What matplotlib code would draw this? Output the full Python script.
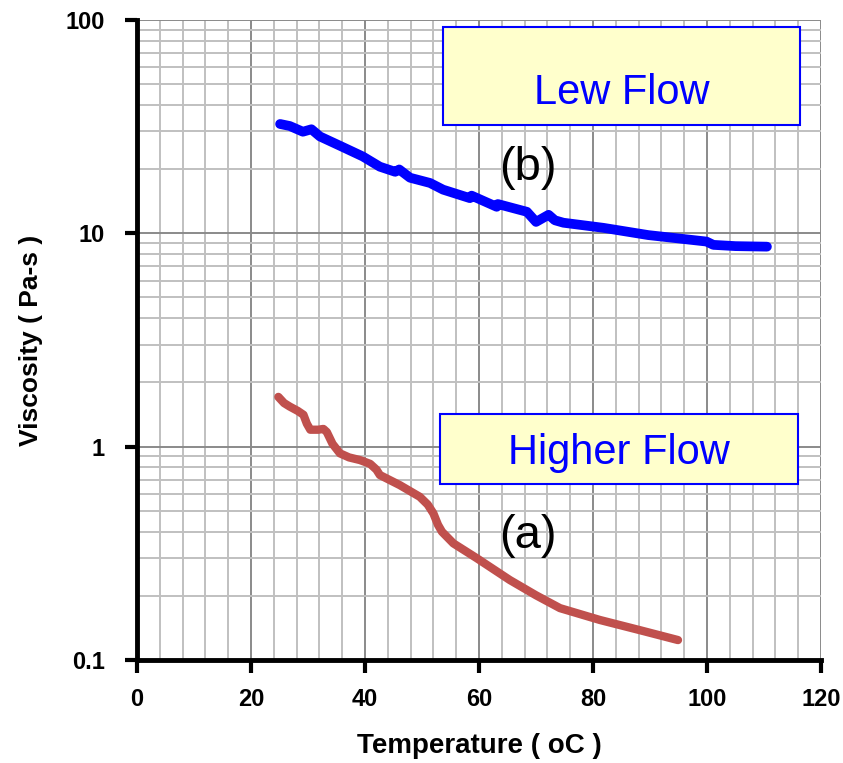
import numpy as np
import matplotlib.pyplot as plt
from matplotlib import rcParams
from matplotlib.patches import Rectangle
from matplotlib.ticker import LogLocator, MultipleLocator, FixedLocator, FixedFormatter

rcParams['font.family'] = ['Liberation Sans', 'DejaVu Sans']

# ---- data ----
# (b) low flow
temp_b = [25.1, 26.8, 29.1, 30.6, 32.1, 35.6, 39.6, 42.6, 45.3, 46.0, 47.9,
          51.4, 53.7, 58.4, 58.7, 63.1, 63.3, 68.4, 70.0, 72.2, 73.3, 74.8,
          81.8, 89.7, 99.9, 101.1, 105.0, 110.5]
visc_b = [32.5, 31.8, 29.9, 30.7, 28.4, 25.7, 22.9, 20.5, 19.4, 19.9, 18.2,
          17.2, 16.0, 14.6, 15.0, 13.3, 13.7, 12.6, 11.3, 12.2, 11.5, 11.2,
          10.6, 9.8, 9.14, 8.82, 8.7, 8.65]

# (a) higher flow
temp_a = [24.8, 25.8, 26.8, 28.2, 29.2, 29.8, 30.4, 31.8, 32.7, 33.3, 34.3,
          35.6, 37.2, 39.1, 40.9, 42.0, 42.6, 46.1, 49.6, 51.0, 52.0, 52.8,
          53.5, 55.5, 59.6, 65.4, 70.0, 74.2, 81.2, 88.2, 94.9]
visc_a = [1.71, 1.60, 1.54, 1.47, 1.41, 1.28, 1.20, 1.20, 1.21, 1.17, 1.03,
          0.93, 0.89, 0.865, 0.83, 0.78, 0.736, 0.66, 0.582, 0.535, 0.486, 0.43,
          0.399, 0.352, 0.30, 0.237, 0.201, 0.175, 0.154, 0.138, 0.124]

x_ticks = [0, 20, 40, 60, 80, 100, 120]
y_ticks = [0.1, 1, 10, 100]
y_labels = ['0.1', '1', '10', '100']

fig = plt.figure(figsize=(8.43, 7.63), dpi=100)
ax = fig.add_axes([0.1625, 0.135, 0.8115, 0.839])

ax.plot(temp_b, visc_b, color='#0000FF', linewidth=7, solid_capstyle='round',
        solid_joinstyle='round', zorder=3)
ax.plot(temp_a, visc_a, color='#C0504D', linewidth=6, solid_capstyle='round',
        solid_joinstyle='round', zorder=3)

ax.set_yscale('log')
ax.set_xlim(0, 120)
ax.set_ylim(0.1, 100)

ax.xaxis.set_major_locator(FixedLocator(x_ticks))
ax.xaxis.set_minor_locator(MultipleLocator(4))
ax.yaxis.set_major_locator(FixedLocator(y_ticks))
ax.yaxis.set_major_formatter(FixedFormatter(y_labels))
ax.yaxis.set_minor_locator(LogLocator(base=10, subs=np.arange(2, 10)))

ax.grid(True, which='major', color='#8a8a8a', linewidth=1.4, zorder=0)
ax.grid(True, which='minor', color='#c0c0c0', linewidth=1.4, zorder=0)
ax.set_axisbelow(True)

ax.tick_params(axis='both', which='major', labelsize=17, width=3, length=9,
               direction='out')
ax.tick_params(axis='x', which='major', pad=11)
ax.tick_params(axis='y', which='major', pad=14)
ax.tick_params(axis='both', which='minor', length=0)
for lab in ax.get_xticklabels() + ax.get_yticklabels():
    lab.set_fontweight('bold')

for s in ['top', 'right']:
    ax.spines[s].set_visible(False)
for s in ['left', 'bottom']:
    ax.spines[s].set_linewidth(3.5)

ax.set_xlabel('Temperature ( oC )', fontsize=20, fontweight='bold', labelpad=16)
ax.set_ylabel('Viscosity ( Pa-s )', fontsize=19, fontweight='bold', labelpad=16)

# text boxes (axes fraction)
for (x0, y0, w, h) in [(0.447, 0.836, 0.522, 0.153), (0.443, 0.275, 0.523, 0.109)]:
    ax.add_patch(Rectangle((x0, y0), w, h, transform=ax.transAxes,
                           facecolor='#FFFFCC', edgecolor='#0000FF',
                           linewidth=1.5, zorder=4))
ax.text(0.708, 0.885, 'Lew Flow', transform=ax.transAxes, fontsize=30,
        color='#0000FF', ha='center', va='center', zorder=5)
ax.text(0.704, 0.324, 'Higher Flow', transform=ax.transAxes, fontsize=30,
        color='#0000FF', ha='center', va='center', zorder=5)
ax.text(68.5, 20.2, '(b)', fontsize=34, color='black', ha='center', va='center', zorder=5)
ax.text(68.5, 0.38, '(a)', fontsize=34, color='black', ha='center', va='center', zorder=5)

fig.savefig('out.png', dpi=100, facecolor='white')
